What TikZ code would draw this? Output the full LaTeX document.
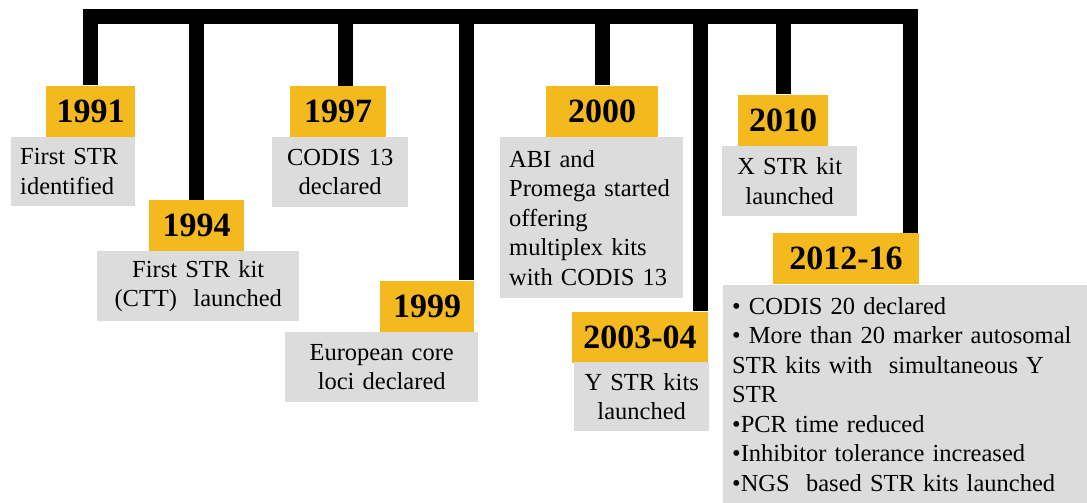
\documentclass[tikz,border=0pt]{standalone}
\usepackage{fontspec}
\setmainfont{Liberation Serif}
\definecolor{yrcol}{HTML}{F4B91E}
\definecolor{infocol}{HTML}{DCDCDC}
\begin{document}
\begin{tikzpicture}[
		x=1pt, y=-1pt,
		yr/.style   = {fill=yrcol, inner sep=0pt, minimum height=51pt, font=\bfseries\fontsize{34}{34}\selectfont},
		info/.style = {fill=infocol, anchor=north west, inner xsep=9pt, inner ysep=0pt, font=\fontsize{24.5}{29.5}\selectfont},
		stem/.style = {line width=15pt, line join=miter}
		]
		\useasboundingbox (0,0) rectangle (1087,503);
		
		% Year boxes
		\node[yr, minimum width=89pt]  (y1991) at (90.5, 111)  {1991};
		\node[yr, minimum width=95pt]  (y1994) at (196.5, 225.5) {1994};
		\node[yr, minimum width=96pt]  (y1997) at (338, 111.5) {1997};
		\node[yr, minimum width=94pt]  (y1999) at (427, 306)   {1999};
		\node[yr, minimum width=112pt] (y2000) at (602, 111)   {2000};
		\node[yr, minimum width=136pt] (y2003) at (640, 337)   {2003-04};
		\node[yr, minimum width=90pt]  (y2010) at (783, 120)   {2010};
		\node[yr, minimum width=146pt] (y2012) at (846, 258.5) {2012-16};
		
		% Event boxes
		\node[info, align=left, text width=106pt, minimum height=69pt] (t1991) at (11, 137) {First STR\\identified};
		\node[info, align=center, text width=184pt, minimum height=70pt] (t1994) at (97, 251) {First STR kit\\(CTT)~ launched};
		\node[info, align=center, text width=118pt, minimum height=70pt] (t1997) at (272, 137) {CODIS 13\\declared};
		\node[info, align=center, text width=175pt, minimum height=70pt] (t1999) at (285, 332) {European core\\loci declared};
		\node[info, align=left, text width=165pt, minimum height=161pt] (t2000) at (500, 137) {ABI and\\Promega started\\offering\\multiplex kits\\with CODIS 13};
		\node[info, align=center, text width=117pt, minimum height=69pt] (t2003) at (574, 362) {Y STR kits\\launched};
		\node[info, align=center, text width=117pt, minimum height=70pt] (t2010) at (722, 146) {X STR kit\\launched};
		\node[info, align=left, text width=346pt, minimum height=218pt] (t2012) at (723, 285) {• CODIS 20 declared\\• More than 20 marker autosomal\\STR kits with~ simultaneous Y\\STR\\•PCR time reduced\\•Inhibitor tolerance increased\\•NGS~ based STR kits launched};
		
		% Bar and stems
		\coordinate (j1991) at (90, 17);
		\coordinate (j1994) at (196, 17);
		\coordinate (j1997) at (345.5, 17);
		\coordinate (j1999) at (466.5, 17);
		\coordinate (j2000) at (602, 17);
		\coordinate (j2003) at (700.5, 17);
		\coordinate (j2010) at (783, 17);
		\coordinate (j2012) at (910.5, 17);
		
		\draw[stem] (j1991 |- y1991.north) -- (j1991) -- (j2012) -- (j2012 |- y2012.north);
		\draw[stem] (j1994) -- (j1994 |- y1994.north);
		\draw[stem] (j1997) -- (j1997 |- y1997.north);
		\draw[stem] (j1999) -- (j1999 |- y1999.north);
		\draw[stem] (j2000) -- (j2000 |- y2000.north);
		\draw[stem] (j2003) -- (j2003 |- y2003.north);
		\draw[stem] (j2010) -- (j2010 |- y2010.north);
	\end{tikzpicture}
\end{document}
